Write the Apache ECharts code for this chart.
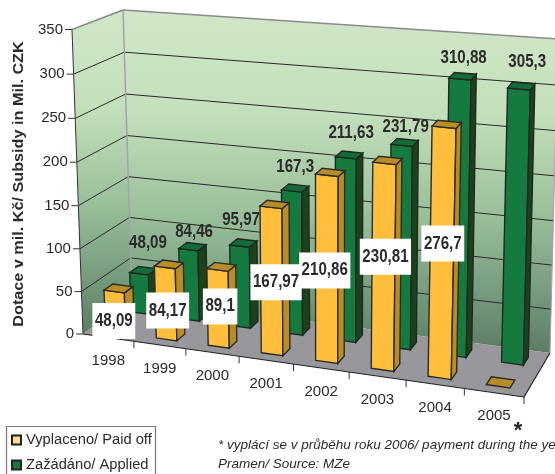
<!DOCTYPE html>
<html>
<head>
<meta charset="utf-8">
<style>html,body{margin:0;padding:0;background:#fff;overflow:hidden}#chart{width:555px;height:474px}</style>
<script src="https://cdn.jsdelivr.net/npm/echarts@6/dist/echarts.min.js"></script>
</head>
<body>
<div id="chart"></div>
<script>
// Subsidy paid off and applied for, 1998-2005 (mil. Kč)
const years = ['1998', '1999', '2000', '2001', '2002', '2003', '2004', '2005'];
const paidOff = [48.09, 84.17, 89.1, 167.97, 210.86, 230.81, 276.7, 0];
const applied = [48.09, 84.46, 95.97, 167.3, 211.63, 231.79, 310.88, 305.3];
const valueTicks = [0, 50, 100, 150, 200, 250, 300, 350];
const paidLabels = ['48,09', '84,17', '89,1', '167,97', '210,86', '230,81', '276,7', ''];
const appliedLabels = ['48,09', '84,46', '95,97', '167,3', '211,63', '231,79', '310,88', '305,3'];

// Small per-bar label shifts, in pixels
const paidShift = [[-1, 9], [2, 7], [2, -2], [4.5, 1], [-2, 1], [2, -11], [1, -10.5], [0, 0]];
const appliedShift = [[4.6, -10.7], [1.6, 2.3], [-2.3, -6.2], [0, -4], [2, -5], [1, 1.6], [1, -1], [6, -7]];

// Screen corners of the 3D box: f/b = front/back, l/r = left/right, 0/1 = floor/top
const box = {
  fl0: [83, 334], fr0: [524, 397], bl0: [132, 298], br0: [550, 353],
  fl1: [72, 29.5], fr1: [534, 72], bl1: [123, 10], br1: [558, 39]
};
const warpAcross = 1.095, warpUp = 1.03;
const warp = (t, k) => t / (t + k * (1 - t));
const mix = (a, b, t) => [a[0] + (b[0] - a[0]) * t, a[1] + (b[1] - a[1]) * t];

// u across the categories, h up the value axis, d into the depth, each 0..1
function project(u, h, d) {
  const U = warp(u, warpAcross), H = warp(h, warpUp);
  const f = mix(mix(box.fl0, box.fr0, U), mix(box.fl1, box.fr1, U), H);
  const b = mix(mix(box.bl0, box.br0, U), mix(box.bl1, box.br1, U), H);
  return mix(f, b, d);
}
const toUnit = (pt, cs) => [(pt[0] - cs.x) / cs.width, (cs.y + cs.height - pt[1]) / cs.height];
const poly = (points, fill, stroke, lineWidth) => ({
  type: 'polygon', shape: { points },
  style: { fill, stroke: stroke || null, lineWidth: lineWidth || 1 }
});
const seg = (a, b, stroke, lineWidth) => ({
  type: 'line', shape: { x1: a[0], y1: a[1], x2: b[0], y2: b[1] },
  style: { stroke, lineWidth: lineWidth || 1 }
});
const label = (text, x, y, font, extra) => ({
  type: 'text',
  style: Object.assign({
    text, x, y, fill: '#2b2b2b', align: 'center', verticalAlign: 'middle',
    fontFamily: font.family, fontSize: font.size, fontWeight: font.weight || 'normal'
  }, extra || {})
});
const plainFont = { family: '"Liberation Sans", Arial, sans-serif', size: 15 };
const valueFont = { family: '"Liberation Sans", Arial, sans-serif', size: 18, weight: 'bold' };
const valueSqueeze = 0.84;

// Value labels are set condensed: the element is scaled, not the text size
function valueLabel(text, x, y, boxed) {
  const el = label(text, 0, 0, valueFont, boxed ? { backgroundColor: '#fff', padding: [9, 3, 9, 3] } : {});
  el.x = x; el.y = y; el.scaleX = valueSqueeze;
  return el;
}

function renderFrame(params, api) {
  const cs = params.coordSys;
  const wallFill = new echarts.graphic.LinearGradient(0, 0, 0, 1, [
    { offset: 0, color: '#d0e7c8' }, { offset: 0.3, color: '#c4dfbb' },
    { offset: 0.6, color: '#99bf9a' }, { offset: 0.85, color: '#73967a' },
    { offset: 1, color: '#5c7c64' }
  ]);
  const children = [
    poly([project(0, 0, 0), project(0, 1, 0), project(0, 1, 1), project(0, 0, 1)], wallFill),
    poly([project(0, 0, 1), project(0, 1, 1), project(1, 1, 1), project(1, 0, 1)], wallFill),
    poly([project(0, 0, 0), project(0, 0, 1), project(1, 0, 1), project(1, 0, 0)], '#97979c')
  ];
  valueTicks.forEach(v => {
    const h = toUnit(api.coord([0, v]), cs)[1];
    const a = project(0, h, 0);
    if (v > 0 && v < 350) {
      children.push(seg(a, project(0, h, 1), '#2a2a2a'), seg(project(0, h, 1), project(1, h, 1), '#2a2a2a'));
    }
    children.push(seg([a[0] - 7, a[1]], a, '#333'));
    children.push(label(String(v), a[0] - 9, a[1], plainFont, { align: 'right' }));
  });
  // Box edges
  children.push(seg(project(0, 0, 0), project(0, 1, 0), '#333'));
  children.push(seg(project(0, 0, 1), project(0, 1, 1), '#a2a2aa', 1.5));
  children.push(seg(project(0, 1, 0), project(0, 1, 1), '#8a8a8e', 1.5));
  children.push(seg(project(0, 1, 1), project(1, 1, 1), '#8a8a8e', 1.5));
  children.push(seg(project(1, 0, 1), project(1, 1, 1), '#a2a2aa'));
  children.push(seg(project(0, 0, 0), project(1, 0, 0), '#222', 1.2));
  children.push(seg(project(1, 0, 0), project(1, 0, 1), '#222', 1.2));
  // Category ticks and labels along the front floor edge
  const band = api.size([1, 0])[0] / cs.width;
  years.forEach((y, i) => {
    const u = toUnit(api.coord([i, 0]), cs)[0];
    const e = project(u + band / 2, 0, 0);
    children.push(seg(e, [e[0], e[1] + 7], '#333'));
    const c = project(u, 0, 0);
    children.push(label(y, c[0], c[1] + 23.5, plainFont));
  });
  return { type: 'group', children };
}

// One bar of a row: front, right side and top faces, plus its value label
function barRenderer(row) {
  return function (params, api) {
    const cs = params.coordSys;
    const i = api.value(0), v = api.value(1);
    const [uc, h] = toUnit(api.coord([i, v]), cs);
    const halfWidth = api.size([1, 0])[0] / cs.width * row.widthShare / 2;
    const u0 = uc - halfWidth, u1 = uc + halfWidth, d0 = row.depth[0], d1 = row.depth[1];
    const children = [];
    if (h > 0) {
      children.push(poly([project(u0, 0, d0), project(u1, 0, d0), project(u1, h, d0), project(u0, h, d0)], row.front, row.line, 1.4));
      children.push(poly([project(u1, 0, d0), project(u1, 0, d1), project(u1, h, d1), project(u1, h, d0)], row.side, row.line, 1.4));
    }
    children.push(poly([project(u0, h, d0), project(u1, h, d0), project(u1, h, d1), project(u0, h, d1)], row.top, row.line, 1.4));
    const text = row.labels[i];
    if (text) {
      const s = row.shift[i];
      const a = row.boxed ? project(uc, h / 2, d0) : project(uc, h, (d0 + d1) / 2);
      children.push(valueLabel(text, a[0] + s[0], a[1] + s[1] - (row.boxed ? 0 : 17), row.boxed));
    }
    return { type: 'group', children };
  };
}

const paidRow = {
  depth: [0.15, 0.33], widthShare: 0.4, labels: paidLabels, shift: paidShift, boxed: true,
  front: '#ffbe3c', side: '#b88d28', top: '#b88d28', line: '#2c2c22'
};
const appliedRow = {
  depth: [0.67, 0.85], widthShare: 0.38, labels: appliedLabels, shift: appliedShift, boxed: false,
  front: '#157a3f', side: '#1d401d', top: '#146a38', line: '#1e2a1e'
};

const rows = values => values.map((v, i) => [i, v]);
const chart = echarts.init(document.getElementById('chart'), null, { renderer: 'canvas' });
chart.setOption({
  animation: false,
  backgroundColor: '#fff',
  grid: { left: 83, top: 29, width: 441, height: 305 },
  xAxis: { type: 'category', data: years, show: false },
  yAxis: { type: 'value', min: 0, max: 350, interval: 50, show: false },
  legend: {
    orient: 'vertical', left: 11, top: 432.5, padding: 0, itemGap: 10, itemWidth: 9, itemHeight: 9,
    icon: 'rect', selectedMode: false,
    textStyle: { fontFamily: plainFont.family, fontSize: 14.7, color: '#2b2b2b' },
    data: ['Vyplaceno/ Paid off', 'Zažádáno/ Applied']
  },
  graphic: [
    // Legend frame runs past the bottom edge of the page
    { type: 'rect', z: -1, shape: { x: 6.5, y: 426.5, width: 149, height: 60 },
      style: { fill: '#fff', stroke: '#777', lineWidth: 1.2 } },
    { type: 'text', rotation: Math.PI / 2, scaleX: 1.08, x: 19, y: 184, style: {
      text: 'Dotace v mil. Kč/ Subsidy in Mil. CZK', align: 'center', verticalAlign: 'middle',
      fill: '#2b2b2b', fontFamily: plainFont.family, fontSize: 15, fontWeight: 'bold' } },
    { type: 'text', x: 218, y: 445, style: {
      text: '* vyplácí se v průběhu roku 2006/ payment during the year 2006', verticalAlign: 'middle',
      fill: '#2b2b2b', fontFamily: plainFont.family, fontSize: 13.5, fontStyle: 'italic' } },
    { type: 'text', x: 218, y: 464, style: {
      text: 'Pramen/ Source: MZe', verticalAlign: 'middle',
      fill: '#2b2b2b', fontFamily: plainFont.family, fontSize: 13.5, fontStyle: 'italic' } },
    { type: 'text', x: 518, y: 431, style: {
      text: '*', align: 'center', verticalAlign: 'middle',
      fill: '#222', fontFamily: plainFont.family, fontSize: 22, fontWeight: 'bold' } }
  ],
  series: [
    { type: 'custom', name: 'frame', z: 1, silent: true, data: [[0, 0]], renderItem: renderFrame },
    { type: 'custom', name: 'Zažádáno/ Applied', z: 2, data: rows(applied), renderItem: barRenderer(appliedRow),
      encode: { x: 0, y: 1 }, itemStyle: { color: '#157a3f', borderColor: '#222', borderWidth: 1 } },
    { type: 'custom', name: 'Vyplaceno/ Paid off', z: 3, data: rows(paidOff), renderItem: barRenderer(paidRow),
      encode: { x: 0, y: 1 }, itemStyle: { color: '#ffe086', borderColor: '#222', borderWidth: 1 } }
  ]
});
</script>
</body>
</html>
